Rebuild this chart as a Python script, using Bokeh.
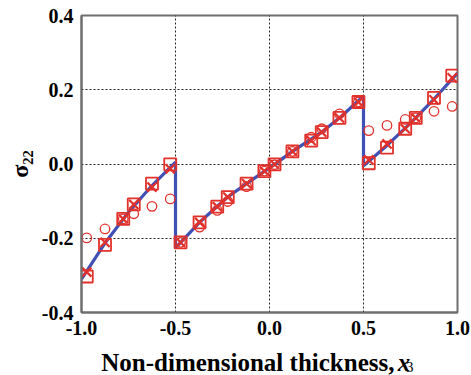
from bokeh.plotting import figure
from bokeh.layouts import column
from bokeh.models import Range1d, FixedTicker, NumeralTickFormatter, Label
from bokeh.embed import file_html
from bokeh.resources import INLINE

# ---- data ----
line_x = [-1.0, -0.875, -0.75, -0.625, -0.5,
          -0.5, -0.372, -0.222, -0.122, 0.027, 0.122, 0.278, 0.372, 0.5,
          0.5, 0.625, 0.75, 0.875, 1.0]
line_y = [-0.31, -0.213, -0.13, -0.058, 0.005,
          -0.226, -0.157, -0.089, -0.053, -0.001, 0.034, 0.086, 0.124, 0.183,
          -0.005, 0.05, 0.11, 0.175, 0.245]

pts_x = [-0.972, -0.875, -0.778, -0.722, -0.625, -0.528,
         -0.473, -0.372, -0.278, -0.222, -0.122, -0.027, 0.027, 0.122, 0.222, 0.278, 0.372, 0.473,
         0.528, 0.625, 0.722, 0.778, 0.875, 0.972]
squares_y = [-0.303, -0.218, -0.148, -0.109, -0.053, -0.001,
             -0.211, -0.157, -0.115, -0.089, -0.053, -0.019, -0.001, 0.034, 0.063, 0.086, 0.124, 0.167,
             0.002, 0.044, 0.095, 0.124, 0.178, 0.238]
crosses_y = [-0.291, -0.211, -0.148, -0.109, -0.062, -0.013,
             -0.211, -0.157, -0.115, -0.089, -0.053, -0.019, -0.001, 0.034, 0.063, 0.086, 0.124, 0.167,
             0.011, 0.054, 0.095, 0.124, 0.173, 0.232]
circles_y = [-0.199, -0.175, -0.148, -0.134, -0.114, -0.094,
             -0.211, -0.170, -0.125, -0.101, -0.061, -0.019, -0.002, 0.034, 0.072, 0.095, 0.135, 0.167,
             0.090, 0.104, 0.120, 0.124, 0.142, 0.155]

x_ticks = [-1.0, -0.5, 0.0, 0.5, 1.0]
y_ticks = [-0.4, -0.2, 0.0, 0.2, 0.4]

x_label_main = "Non-dimensional thickness,"
x_label_var = "x"
x_label_sub = "3"
y_label = "σ₂₂"

BLUE = "#3f51b5"
RED = "#e2302a"
FONT = "Liberation Serif"
W = 471

p = figure(width=W, height=342, frame_width=376, frame_height=297,
           output_backend="svg", toolbar_location=None,
           x_range=Range1d(-1.0, 1.0), y_range=Range1d(-0.4, 0.4),
           min_border_left=81, min_border_right=14, min_border_top=15, min_border_bottom=30)
p.background_fill_color = "white"
p.border_fill_color = "white"
p.outline_line_color = "#6e6e6e"
p.outline_line_width = 2

for ax in (p.xaxis[0], p.yaxis[0]):
    ax.axis_line_color = "#6e6e6e"
    ax.axis_line_width = 2
    ax.major_tick_out = 0
    ax.major_tick_in = 0
    ax.minor_tick_out = 0
    ax.minor_tick_in = 0
    ax.major_label_text_font = FONT
    ax.major_label_text_font_style = "bold"
    ax.major_label_text_font_size = "20px"
    ax.major_label_text_color = "black"
    ax.formatter = NumeralTickFormatter(format="0.0")
p.xaxis[0].ticker = FixedTicker(ticks=x_ticks)
p.yaxis[0].ticker = FixedTicker(ticks=y_ticks)
p.xaxis[0].major_label_standoff = 8
p.yaxis[0].major_label_standoff = 8

p.yaxis[0].axis_label = y_label
p.yaxis[0].axis_label_text_font = FONT
p.yaxis[0].axis_label_text_font_style = "bold"
p.yaxis[0].axis_label_text_font_size = "24px"
p.yaxis[0].axis_label_text_color = "black"
p.yaxis[0].axis_label_standoff = 6

for g in (p.xgrid[0], p.ygrid[0]):
    g.grid_line_color = "black"
    g.grid_line_dash = "2 2"
    g.grid_line_width = 1
    g.grid_line_alpha = 0.85
p.xgrid[0].ticker = FixedTicker(ticks=x_ticks)
p.ygrid[0].ticker = FixedTicker(ticks=y_ticks)

p.line(line_x, line_y, line_color=BLUE, line_width=3.2)
p.scatter(pts_x, circles_y, marker="circle", size=9.5, fill_color=None, line_color=RED, line_width=1.3)
p.scatter(pts_x, squares_y, marker="square", size=12, fill_color=None, line_color=RED, line_width=1.8)
p.scatter(pts_x, crosses_y, marker="x", size=13, line_color=RED, line_width=2.2)

# strip below the plot holding the x-axis title (italic x with subscript 3)
QH = 33
q = figure(width=W, height=QH, output_backend="svg", toolbar_location=None,
           x_range=Range1d(0, W), y_range=Range1d(0, QH),
           min_border=0, min_border_left=0, min_border_right=0, min_border_top=0, min_border_bottom=0)
q.axis.visible = False
q.grid.visible = False
q.outline_line_color = None
q.background_fill_color = "white"
q.border_fill_color = "white"

base = QH - 20
q.add_layout(Label(x=392, y=base, text=x_label_main, text_align="right",
                   text_baseline="alphabetic", text_font=FONT, text_font_style="bold",
                   text_font_size="25px", text_color="black"))
q.add_layout(Label(x=396, y=base, text=x_label_var, text_align="left",
                   text_baseline="alphabetic", text_font=FONT, text_font_style="bold italic",
                   text_font_size="25px", text_color="black"))
q.add_layout(Label(x=406.5, y=base - 4, text=x_label_sub, text_align="left",
                   text_baseline="alphabetic", text_font=FONT, text_font_style="normal",
                   text_font_size="15px", text_color="black"))

layout = column(p, q, spacing=0)
open("out.html", "w").write(file_html(layout, INLINE))
